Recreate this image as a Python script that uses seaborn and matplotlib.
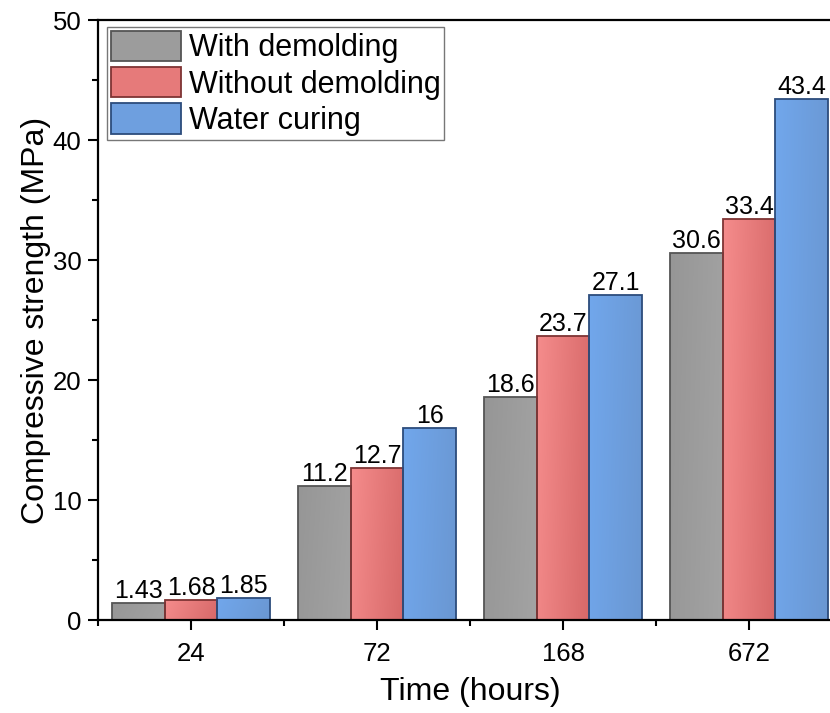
import numpy as np
import pandas as pd
import matplotlib
matplotlib.use("Agg")
import matplotlib.pyplot as plt
from matplotlib.colors import to_rgb
import seaborn as sns

# Compressive strength of samples over curing time
times = ["24", "72", "168", "672"]
with_demolding = [1.43, 11.2, 18.6, 30.6]
without_demolding = [1.68, 12.7, 23.7, 33.4]
water_curing = [1.85, 16, 27.1, 43.4]
series_names = ["With demolding", "Without demolding", "Water curing"]

# gradient start/end colours and edge colour for each series
grad_start = ["#969696", "#f58c8c", "#71a7ec"]
grad_end = ["#a3a3a3", "#d66868", "#6a97d2"]
edge_cols = ["#555555", "#7e3434", "#2c4c7c"]
mid_cols = ["#9c9c9c", "#e67a7a", "#6e9fdf"]

df = pd.DataFrame({
    "Time": times * 3,
    "Strength": with_demolding + without_demolding + water_curing,
    "Series": sum([[s] * len(times) for s in series_names], []),
})

sns.set_theme(style="ticks")
plt.rcParams["font.family"] = ["Liberation Sans", "DejaVu Sans"]
plt.rcParams.update({"text.color": "black", "axes.labelcolor": "black",
                     "xtick.color": "black", "ytick.color": "black"})

fig = plt.figure(figsize=(8.30, 7.13), dpi=100)
ax = fig.add_axes([98 / 830, 93 / 713, 744 / 830, 600 / 713])

sns.barplot(data=df, x="Time", y="Strength", hue="Series", order=times,
            hue_order=series_names, palette=mid_cols, width=0.85,
            saturation=1, ax=ax, legend=True)

# replace flat fills with soft left-to-right gradients
for ci, cont in enumerate(ax.containers):
    c0 = np.array(to_rgb(grad_start[ci]))
    c1 = np.array(to_rgb(grad_end[ci]))
    for patch in cont.patches:
        x0, y0 = patch.get_x(), patch.get_y()
        w, h = patch.get_width(), patch.get_height()
        xx, yy = np.meshgrid(np.linspace(0, 1, 64), np.linspace(0, 1, 64))
        t = np.clip(0.85 * xx + 0.15 * yy, 0, 1)
        img = c0[None, None, :] * (1 - t[..., None]) + c1[None, None, :] * t[..., None]
        im = ax.imshow(img, extent=(x0, x0 + w, y0, y0 + h), origin="upper",
                       aspect="auto", zorder=patch.get_zorder() - 0.01,
                       interpolation="bilinear")
        im.set_clip_path(patch)
        patch.set_facecolor("none")
        patch.set_edgecolor(edge_cols[ci])
        patch.set_linewidth(1.3)
    ax.bar_label(cont, labels=[f"{v:g}" for v in cont.datavalues],
                 padding=0, fontsize=18, color="black")

ax.set_xlim(-0.5, 3.5)
ax.set_ylim(0, 50)
ax.set_yticks(np.arange(0, 51, 10))
ax.set_yticks(np.arange(5, 50, 10), minor=True)
ax.set_xticks(np.arange(-0.5, 4, 1.0), minor=True)

ax.set_xlabel("Time (hours)", fontsize=23, labelpad=8)
ax.set_ylabel("Compressive strength (MPa)", fontsize=23, labelpad=1)

for side in ["left", "bottom", "top", "right"]:
    ax.spines[side].set_linewidth(1.6)
    ax.spines[side].set_color("black")
ax.tick_params(axis="both", which="major", direction="out", length=7,
               width=1.5, labelsize=18.5, color="black", pad=5)
ax.tick_params(axis="both", which="minor", direction="out", length=4,
               width=1.5, color="black")
ax.tick_params(axis="x", which="major", pad=9)

handles, labels = ax.get_legend_handles_labels()
for hi, hnd in enumerate(handles):
    hnd.set_facecolor(mid_cols[hi])
    hnd.set_edgecolor(edge_cols[hi])
    hnd.set_linewidth(1.3)
leg = ax.legend(handles, labels, loc="upper left", bbox_to_anchor=(0.004, 0.998),
                fontsize=22, frameon=True, fancybox=False, edgecolor="#555555",
                handlelength=2.3, handleheight=1.15, handletextpad=0.25,
                labelspacing=0.12, borderpad=0.12, borderaxespad=0.2)
leg.get_frame().set_linewidth(1.0)

fig.savefig("out.png", dpi=100)
